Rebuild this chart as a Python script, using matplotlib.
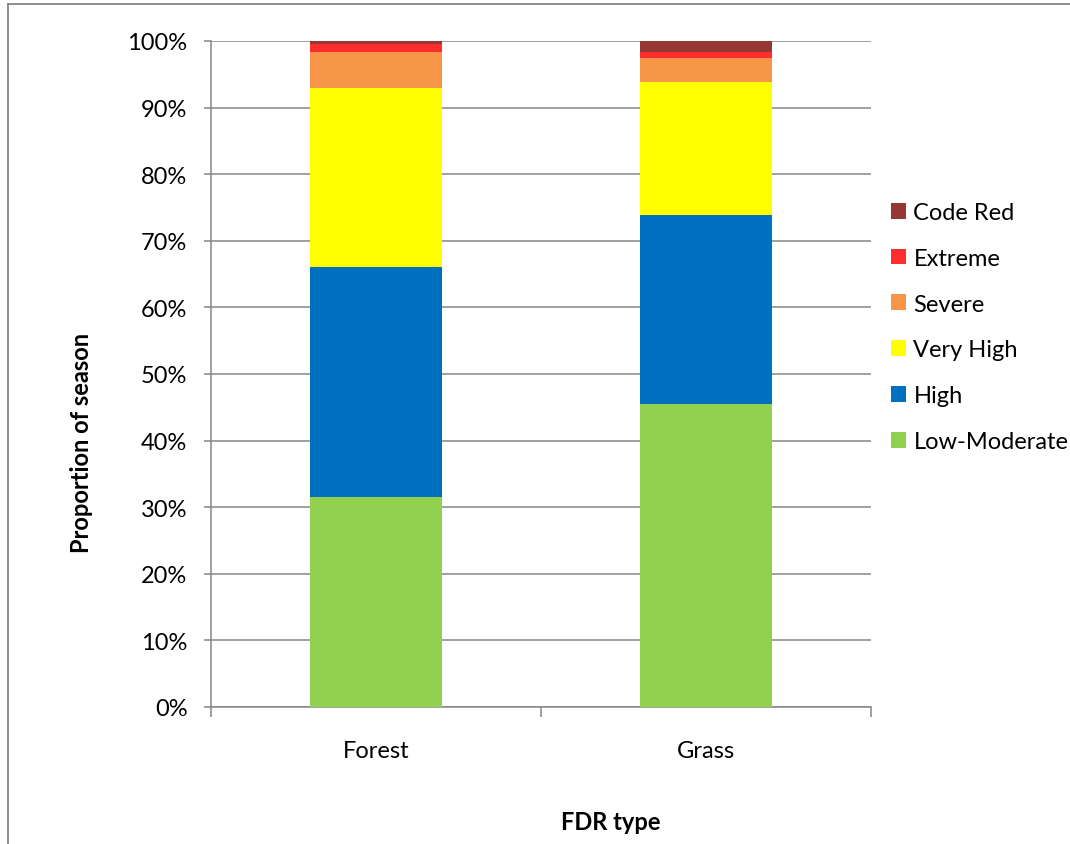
import matplotlib
matplotlib.use("Agg")
import matplotlib.pyplot as plt
from matplotlib.lines import Line2D
from matplotlib.patches import Patch
from matplotlib.ticker import PercentFormatter

plt.rcParams['font.family'] = ['Lato', 'DejaVu Sans']

categories = ["Forest", "Grass"]
levels = ["Low-Moderate", "High", "Very High", "Severe", "Extreme", "Code Red"]
low_moderate = [31.5, 45.5]
high = [34.6, 28.4]
very_high = [26.8, 19.9]
severe = [5.5, 3.6]
extreme = [1.1, 1.0]
code_red = [0.5, 1.6]

colors = ["#92D050", "#0070C0", "#FFFF00", "#F79646", "#FF2D2D", "#953735"]
series = [low_moderate, high, very_high, severe, extreme, code_red]

W, H = 1070, 845
FS = 17
fig = plt.figure(figsize=(W / 100, H / 100), dpi=100)
ax = fig.add_axes([211 / W, 1 - 708 / H, 660 / W, 666 / H])

x = list(range(len(categories)))
bottom = [0.0] * len(categories)
for vals, col, name in zip(series, colors, levels):
    ax.bar(x, vals, width=0.4, bottom=bottom, color=col, label=name, zorder=3)
    bottom = [b + v for b, v in zip(bottom, vals)]

ax.set_xlim(-0.5, 1.5)
ax.set_ylim(0, 100)
ax.set_yticks(range(0, 101, 10))
ax.yaxis.set_major_formatter(PercentFormatter(decimals=0))
ax.grid(axis='y', color='#868686', linewidth=1.1, zorder=0)

grey = '#868686'
for s in ['top', 'right']:
    ax.spines[s].set_visible(False)
for s in ['left', 'bottom']:
    ax.spines[s].set_color(grey)
    ax.spines[s].set_linewidth(1.1)

ax.set_xticks([-0.5, 0.5, 1.5])
ax.set_xticklabels([])
ax.set_xticks(x, minor=True)
ax.set_xticklabels(categories, minor=True)
ax.tick_params(axis='x', which='major', length=7, color=grey, width=1.1)
ax.tick_params(axis='x', which='minor', length=0, labelsize=FS, pad=24)
ax.tick_params(axis='y', length=5, color=grey, width=1.1, labelsize=FS, pad=12)

ax.set_ylabel("Proportion of season", fontsize=FS, fontweight='bold', labelpad=25)
ax.set_xlabel("FDR type", fontsize=FS, fontweight='bold', labelpad=35)
ax.xaxis.label.set_x(0.606)
ax.yaxis.label.set_y(0.398)

handles = [Patch(facecolor=c, edgecolor='none') for c in colors][::-1]
ax.legend(handles, levels[::-1], loc='upper left', bbox_to_anchor=(891 / W, 1 - 203 / H),
          bbox_transform=fig.transFigure, frameon=False, fontsize=FS,
          handlelength=0.65, handleheight=0.65, handletextpad=0.3, labelspacing=1.05,
          borderaxespad=0, borderpad=0)

# chart-area border
fig.add_artist(Line2D([8 / W, 8 / W], [0, 1 - 5 / H], color=grey, linewidth=1.3,
                      transform=fig.transFigure))
fig.add_artist(Line2D([8 / W, 1], [1 - 5 / H, 1 - 5 / H], color=grey, linewidth=1.3,
                      transform=fig.transFigure))

fig.savefig("out.png", dpi=100)
